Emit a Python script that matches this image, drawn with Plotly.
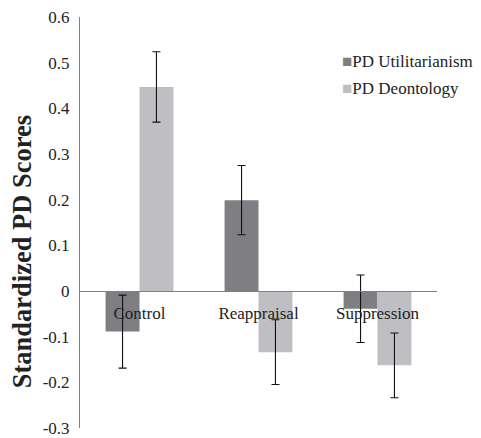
import plotly.graph_objects as go

categories = ["Control", "Reappraisal", "Suppression"]
util_values = [-0.089, 0.199, -0.039]
util_errors = [0.080, 0.076, 0.074]
deont_values = [0.447, -0.134, -0.163]
deont_errors = [0.077, 0.071, 0.071]
series_names = ["PD Utilitarianism", "PD Deontology"]
tick_vals = [0.6, 0.5, 0.4, 0.3, 0.2, 0.1, 0, -0.1, -0.2, -0.3]
tick_text = ["0.6", "0.5", "0.4", "0.3", "0.2", "0.1", "0", "-0.1", "-0.2", "-0.3"]
y_title = "Standardized PD Scores"

DARK = "#7f7f83"
LIGHT = "#bfbfc3"
FONT = "Liberation Serif"

fig = go.Figure()
for name, vals, errs, col in [
    (series_names[0], util_values, util_errors, DARK),
    (series_names[1], deont_values, deont_errors, LIGHT),
]:
    fig.add_trace(go.Bar(
        x=categories, y=vals, name=name, marker=dict(color=col, line=dict(width=0)),
        error_y=dict(type="data", array=errs, color="#111111", thickness=1.1, width=4),
        showlegend=False,
    ))
    fig.add_trace(go.Scatter(
        x=[None], y=[None], mode="markers",
        marker=dict(size=1, color="rgba(0,0,0,0)", line=dict(width=0)),
        name='<span style="color:%s">■</span>%s' % (col, name),
        legendgroup=name, showlegend=True,
    ))

fig.add_annotation(
    text="<b>%s</b>" % y_title, xref="paper", yref="paper",
    x=-0.1625, y=0.43, xanchor="center", yanchor="middle", textangle=-90,
    showarrow=False, font=dict(family=FONT, size=26.5, color="#222222"),
)

fig.update_layout(
    width=481, height=438,
    margin=dict(l=80, r=44, t=17, b=10, autoexpand=False),
    paper_bgcolor="white", plot_bgcolor="white",
    barmode="group", bargap=0.43, bargroupgap=0,
    font=dict(family=FONT, size=17, color="#222222"),
    legend=dict(x=0.622, y=0.938, xanchor="left", yanchor="top",
                traceorder="grouped", tracegroupgap=2, itemwidth=30,
                font=dict(family=FONT, size=17, color="#222222"),
                bgcolor="rgba(0,0,0,0)"),
    xaxis=dict(anchor="free", position=1/3, showline=True, linecolor="#808080",
               linewidth=1, ticks="", showgrid=False, zeroline=False, automargin=False,
               ticklabelstandoff=7, tickfont=dict(family=FONT, size=17, color="#222222")),
    yaxis=dict(range=[-0.3002, 0.6002], tickvals=tick_vals, ticktext=tick_text,
               showline=True, linecolor="#808080", linewidth=1, ticks="", automargin=False,
               showgrid=False, zeroline=False, ticklabelstandoff=6, ticklabeloverflow="allow",
               tickfont=dict(family=FONT, size=17, color="#222222")),
)

fig.write_html("out.html", config={"displayModeBar": False},
               post_script="document.body.style.margin='0';")
